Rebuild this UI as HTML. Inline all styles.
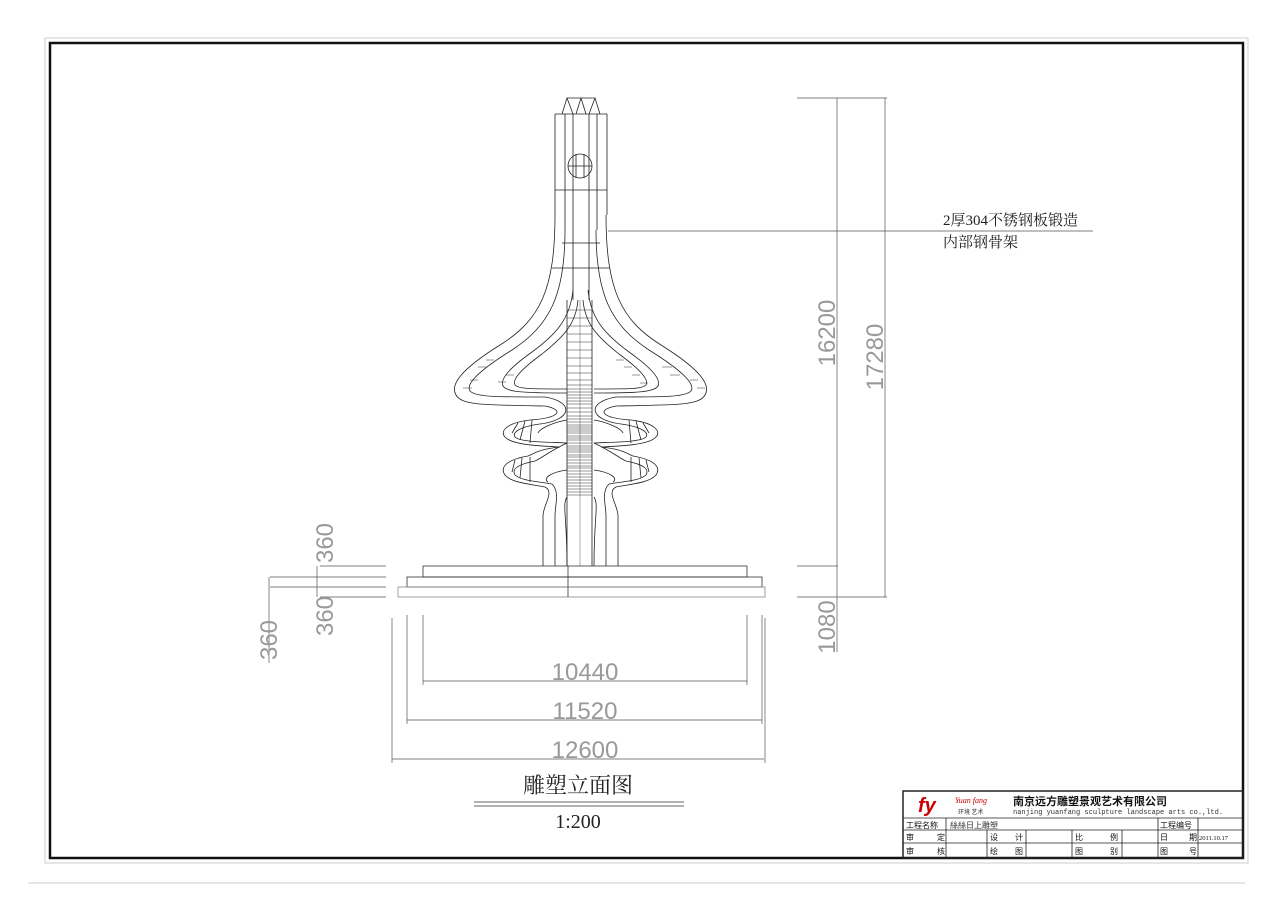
<!DOCTYPE html>
<html><head><meta charset="utf-8"><style>
html,body{margin:0;padding:0;background:#fff;width:1269px;height:897px;overflow:hidden}
svg{display:block}
.t{font-family:"Liberation Serif","Noto Serif CJK SC","Noto Sans CJK SC",serif;fill:#222}
.d{font-family:"Liberation Sans",sans-serif;fill:#999;font-size:24px;font-weight:100}
</style></head><body>
<svg width="1269" height="897" viewBox="0 0 1269 897" xmlns="http://www.w3.org/2000/svg">
<rect x="45" y="38" width="1203" height="825" fill="none" stroke="#ccc" stroke-width="1"/>
<rect x="50" y="43" width="1193" height="815" fill="none" stroke="#111" stroke-width="2.5"/>
<line x1="28" y1="883" x2="1245" y2="883" stroke="#ccc"/>

<!-- sculpture -->
<g fill="none" stroke="#222" stroke-width="0.8">
<!-- top cap -->
<path d="M562,114 L567,98 L595,98 L600,114 Z M555,114 L607,114 M567,98 L573,114 M595,98 L589,114 M581,98 L576,114 M581,98 L586,114"/>
<path d="M555,114 L555,215 M607,114 L607,215 M565,114 L565,230 M597,114 L597,230 M573,114 L573,300 M589,114 L589,300"/>
<circle cx="580" cy="166" r="12"/>
<path d="M576,154 V178 M584,154 V178 M568,166 H592"/>
<line x1="555" y1="190" x2="607" y2="190"/>
<line x1="562" y1="243" x2="600" y2="243"/>
<line x1="552" y1="268" x2="610" y2="268"/>
<g id="L">
<path d="M555,215 C555,290 540,320 500,345 C460,370 450,385 456,395 C462,405 480,405 545,406"/>
<path d="M565,230 C565,295 550,325 512,350 C475,373 466,385 470,391 C476,397 495,397 545,397"/>
<path d="M573,290 C570,320 555,335 532,352 C508,369 500,380 503,386 C507,392 522,393 567,393"/>
<path d="M578,300 C576,325 562,338 542,354 C520,370 512,380 515,385 C519,389 530,389 567,389"/>
<!-- rings -->
<path d="M545,406 C565,410 560,418 530,420 C505,423 500,432 505,437 C512,445 540,446 560,447 C540,449 535,453 528,456 C505,460 500,468 505,475 C512,483 530,484 545,487 C555,492 543,505 543,516 L543,566"/>
<path d="M545,397 C575,402 572,420 540,424 C518,427 512,433 515,437 C520,442 545,442 567,443 C548,452 542,458 535,461 C515,465 512,470 515,475 C522,481 535,481 552,484 C560,492 555,505 555,516 L555,566"/>
<path d="M567,420 C555,422 540,428 538,433 M567,470 C552,472 542,478 548,482 M567,497 C562,505 567,515 567,566"/>
<path d="M518,423 L512,433 M525,421 L520,440 M532,420 L530,443 M515,460 L512,472 M522,458 L520,478 M530,457 L530,482"/>
</g>
<use href="#L" transform="translate(1161,0) scale(-1,1)"/>
<line x1="567" y1="300" x2="567" y2="566"/>
<line x1="592" y1="300" x2="592" y2="566"/>
<line x1="580" y1="300" x2="580" y2="566" stroke="#999"/>
</g>
<!-- central hatching -->
<g stroke="#333" stroke-width="0.6">
<path d="M567,310H592M567,318H592M567,326H592M567,334H592M567,342H592M567,350H592M567,358H592M567,366H592M567,373H592M567,380H592M567,385H592M567,389H592M567,392H592M567,395H592M567,398H592M567,401H592M567,404H592M567,408H592M567,412H592M567,416H592M567,419H592M567,422H592M567,425H592M567,427H592M567,429H592M567,431H592M567,433H592M567,436H592M567,438H592M567,440H592M567,443H592M567,446H592M567,448H592M567,450H592M567,452H592M567,455H592M567,457H592M567,460H592M567,463H592M567,466H592M567,468H592M567,471H592M567,474H592M567,477H592M567,480H592M567,483H592M567,486H592M567,489H592M567,492H592M567,495H592"/>
<path d="M470,380H478M463,388H472M478,367H486M486,360H494M616,360H624M624,367H632M632,375H640M640,383H648M690,380H698M697,388H705M662,367H672M670,375H680M506,375H514M498,382H506"/>
</g>
<!-- base -->
<g fill="none" stroke="#333" stroke-width="0.8">
<rect x="423" y="566" width="324" height="11"/>
<rect x="407" y="577" width="355" height="10"/>
<rect x="398" y="587" width="367" height="10" stroke="#888"/>
<line x1="568" y1="566" x2="568" y2="597"/>
</g>
<!-- dimensions -->
<g stroke="#555" stroke-width="0.7" fill="none">
<path d="M423,615V685M747,615V685M407,615V724M762,615V724M392,618V763M765,618V763"/>
<path d="M423,681H747M407,720H762M392,759H764"/>
<path d="M320,566H386M270,577H386M270,587H386M320,597H386M269,577V663M317,566V597"/>
<path d="M797,98H887M797,566H838M797,597H887M837,98V652M885,98V597"/>
<path d="M608,231H1093"/>
</g>
<g class="d" text-anchor="middle">
<text x="585" y="680">10440</text>
<text x="585" y="719">11520</text>
<text x="585" y="758">12600</text>
<text transform="translate(333,543) rotate(-90)">360</text>
<text transform="translate(333,616) rotate(-90)">360</text>
<text transform="translate(277,640) rotate(-90)">360</text>
<text transform="translate(835,333) rotate(-90)">16200</text>
<text transform="translate(883,357) rotate(-90)">17280</text>
<text transform="translate(835,627) rotate(-90)">1080</text>
</g>
<text class="t" x="943" y="225" font-size="15">2厚304不锈钢板锻造</text>
<text class="t" x="943" y="247" font-size="15">内部钢骨架</text>
<text class="t" x="578" y="793" font-size="22" text-anchor="middle">雕塑立面图</text>
<path d="M474,802H684M474,806H684" stroke="#333" stroke-width="0.8"/>
<text class="t" x="578" y="828" font-size="20" text-anchor="middle">1:200</text>

<!-- title block -->
<g stroke="#222" stroke-width="0.8" fill="none">
<rect x="903" y="791" width="340" height="67" stroke-width="1.5"/>
<path d="M903,818H1243M903,830H1243M903,843H1243M946,818V858M1158,818V858M1198,818V858M987,830V858M1026,830V858M1072,830V858M1122,830V858"/>
</g>
<text x="918" y="812" font-family="Liberation Sans" font-size="20" font-weight="bold" font-style="italic" fill="#c00">fy</text>
<text x="955" y="803" font-family="Liberation Serif" font-size="8" font-style="italic" fill="#c00">Yuan fang</text>
<text x="958" y="814" font-family="Noto Sans CJK SC" font-size="6" fill="#333">环境 艺术</text>
<text x="1013" y="805" font-family="Noto Sans CJK SC,sans-serif" font-size="11" font-weight="bold" fill="#111">南京远方雕塑景观艺术有限公司</text>
<text x="1013" y="814" font-family="Liberation Mono" font-size="7" fill="#333">nanjing yuanfang sculpture landscape arts co.,ltd.</text>
<g font-family="Noto Sans CJK SC,sans-serif" font-size="8" fill="#111">
<text x="906" y="828">工程名称</text><text x="950" y="828" fill="#333">絲絲日上雕塑</text>
<text x="1160" y="828">工程编号</text>
<text x="906" y="840">审</text><text x="937" y="840">定</text>
<text x="990" y="840">设</text><text x="1015" y="840">计</text>
<text x="1075" y="840">比</text><text x="1110" y="840">例</text>
<text x="1160" y="840">日</text><text x="1189" y="840">期</text>
<text x="1199" y="840" font-size="6.5" font-family="Liberation Serif">2011.10.17</text>
<text x="906" y="854">审</text><text x="937" y="854">核</text>
<text x="990" y="854">绘</text><text x="1015" y="854">图</text>
<text x="1075" y="854">图</text><text x="1110" y="854">别</text>
<text x="1160" y="854">图</text><text x="1189" y="854">号</text>
</g>
</svg>
</body></html>
